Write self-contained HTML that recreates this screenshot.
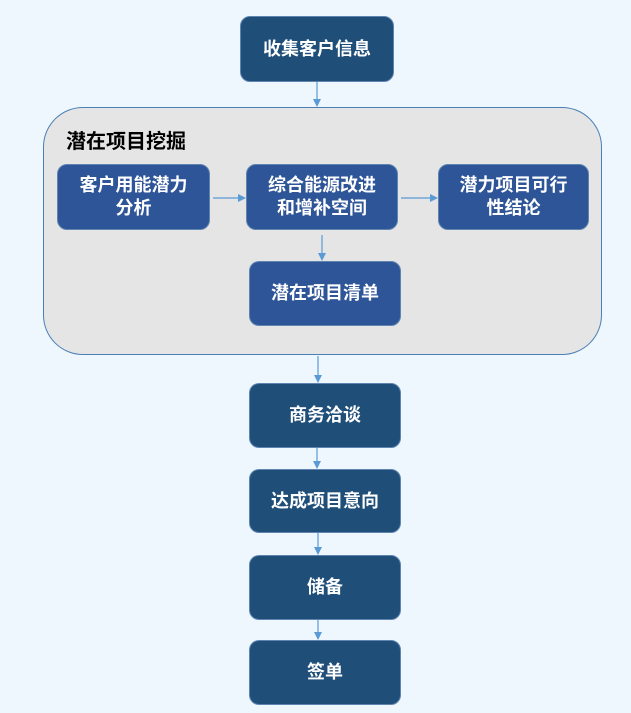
<!DOCTYPE html>
<html><head><meta charset="utf-8"><style>
body{margin:0;width:631px;height:713px;background:#eef6fe;position:relative;overflow:hidden;font-family:"Liberation Sans","Noto Sans CJK SC",sans-serif;}
.b{position:absolute;border-radius:10px;color:#fff;font-weight:bold;font-size:18px;display:flex;align-items:center;justify-content:center;text-align:center;line-height:23px;box-sizing:border-box;border:1px solid #5f84b0;}
.d{background:#1f4e79;}
.i{background:#2e5597;}
.g{position:absolute;left:43px;top:107px;width:559px;height:248px;background:#e5e5e5;border:1.5px solid #4a7fb5;border-radius:40px;box-sizing:border-box;}
.t{position:absolute;left:66px;top:125px;font-size:20px;font-weight:bold;color:#000;}
svg{position:absolute;left:0;top:0;}
</style></head><body>
<div class="g"></div>
<div class="t">潜在项目挖掘</div>
<div class="b d" style="left:240px;top:16px;width:154px;height:66px;">收集客户信息</div>
<div class="b i" style="left:57px;top:164px;width:153px;height:66px;">客户用能潜力<br>分析</div>
<div class="b i" style="left:246px;top:164px;width:152px;height:66px;">综合能源改进<br>和增补空间</div>
<div class="b i" style="left:438px;top:164px;width:151px;height:66px;">潜力项目可行<br>性结论</div>
<div class="b i" style="left:249px;top:261px;width:152px;height:65px;">潜在项目清单</div>
<div class="b d" style="left:249px;top:383px;width:152px;height:65px;">商务洽谈</div>
<div class="b d" style="left:249px;top:469px;width:152px;height:64px;">达成项目意向</div>
<div class="b d" style="left:249px;top:555px;width:152px;height:65px;">储备</div>
<div class="b d" style="left:249px;top:640px;width:152px;height:65px;">签单</div>
<svg width="631" height="713">
<defs><marker id="a" markerWidth="8" markerHeight="8" refX="7" refY="4" orient="auto" markerUnits="userSpaceOnUse"><path d="M0,0 L8,4 L0,8z" fill="#5b9bd5"/></marker></defs>
<g stroke="#5b9bd5" stroke-width="1.2" fill="none">
<line x1="317" y1="82" x2="317" y2="106" marker-end="url(#a)"/>
<line x1="213" y1="198" x2="245" y2="198" marker-end="url(#a)"/>
<line x1="401" y1="198" x2="437" y2="198" marker-end="url(#a)"/>
<line x1="322" y1="235" x2="322" y2="260" marker-end="url(#a)"/>
<line x1="318" y1="356" x2="318" y2="382" marker-end="url(#a)"/>
<line x1="317" y1="448" x2="317" y2="468" marker-end="url(#a)"/>
<line x1="318" y1="533" x2="318" y2="554" marker-end="url(#a)"/>
<line x1="318" y1="620" x2="318" y2="639" marker-end="url(#a)"/>
</g></svg>
</body></html>
